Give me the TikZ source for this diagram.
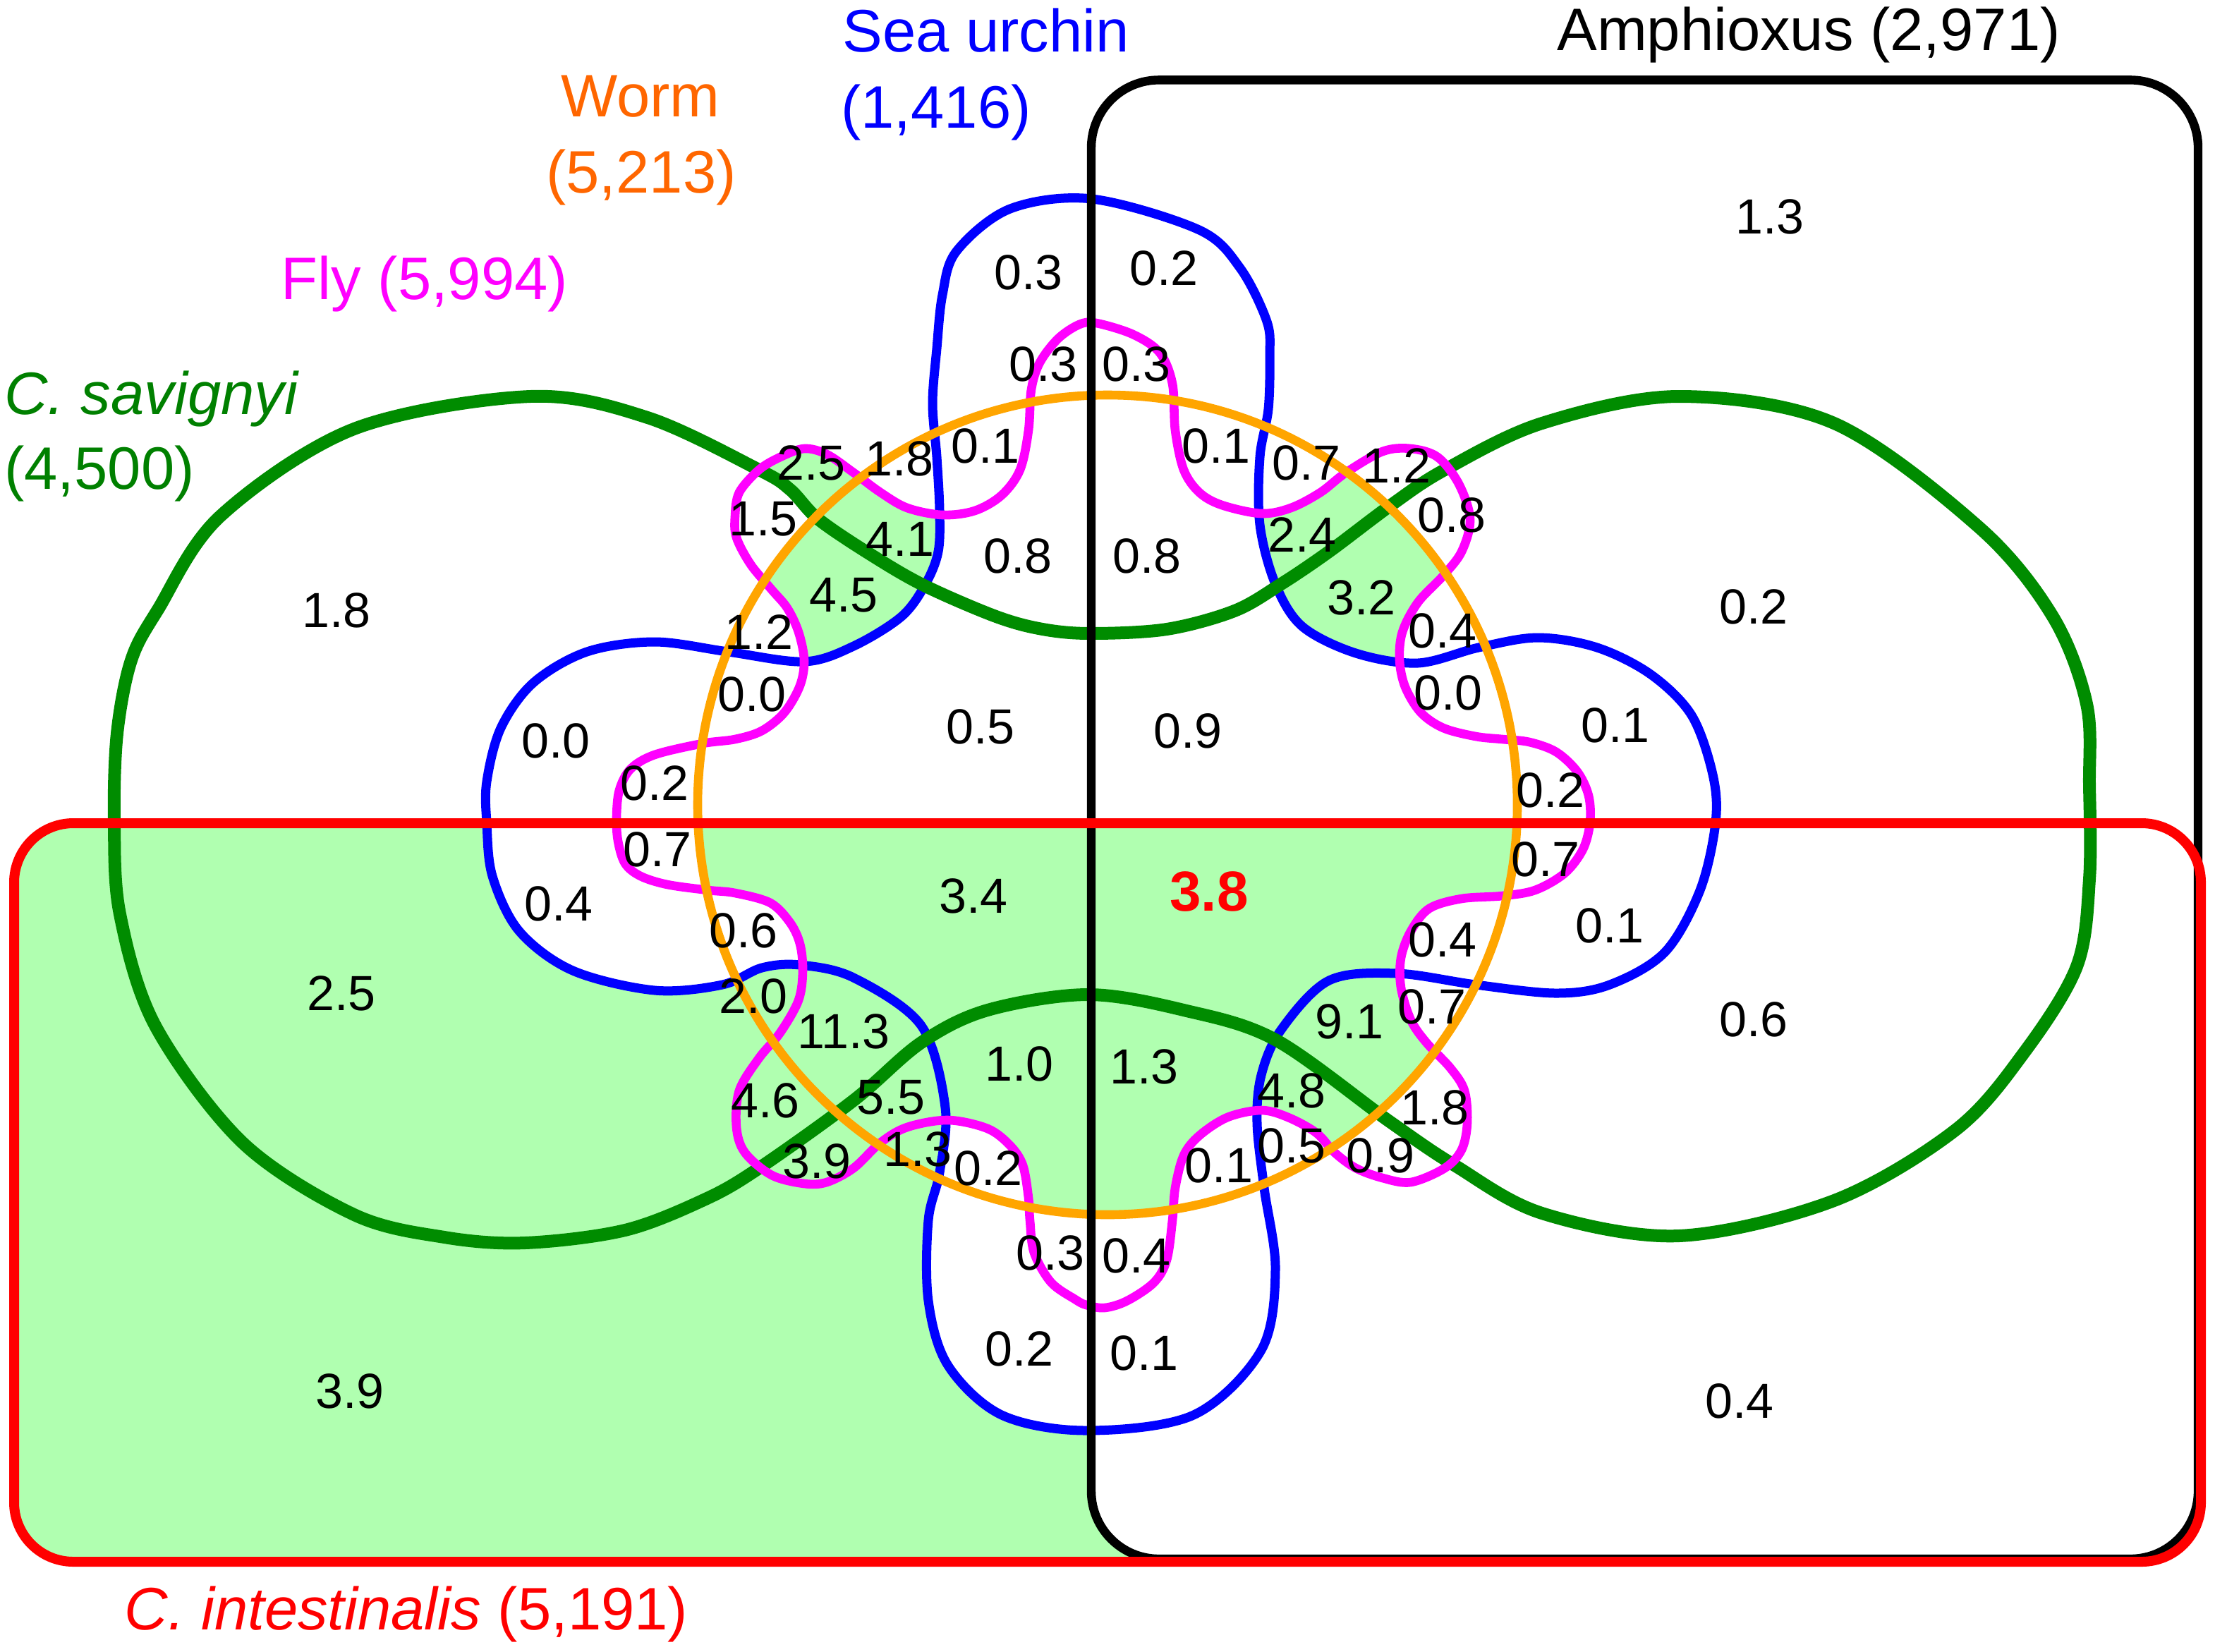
\documentclass[tikz,border=0pt]{standalone}
\usepackage{fontspec}
\setmainfont{Liberation Sans}
\definecolor{gline}{RGB}{0,140,0}
\definecolor{gfill}{RGB}{176,255,176}
\definecolor{oline}{RGB}{255,165,0}
\definecolor{flyc}{RGB}{255,0,255}
\definecolor{urchin}{RGB}{0,0,255}
\definecolor{wormlab}{RGB}{255,102,0}
\definecolor{savlab}{RGB}{0,128,0}
\begin{document}
\begin{tikzpicture}[x=1pt,y=-1pt,
  num/.style={font=\fontsize{35}{40}\selectfont, inner sep=0pt, anchor=center},
  lab/.style={font=\fontsize{42.5}{48}\selectfont, inner sep=0pt, anchor=base},
  setline/.style={line join=round, line cap=round}]
\useasboundingbox (0,0) rectangle (1570,1170.5);
% ---------- set boundaries ----------
\def\pG{plot[smooth cycle, tension=0.55] coordinates {(560,347) (580,368) (617,393) (655,415) (706,437) (739,446) (773,449) (827,446) (875,433) (908,414) (942,391) (986,358) (1024,333) (1093,300) (1190,281) (1300,300) (1403,374) (1455,437) (1479,499) (1481,557) (1481,623) (1472,685) (1434,747) (1386,801) (1300,851) (1190,876) (1093,860) (1031,826) (985,795) (904,737) (839,716) (771,705) (700,716) (653,739) (605,780) (538,828) (500,850) (443,872) (372,881) (315,877) (251,861) (172,810) (110,727) (85,648) (81,582) (83,520) (93,468) (112,432) (156,366) (251,304) (376,281) (459,296) (538,333)}}
\def\pB{plot[smooth cycle, tension=0.55] coordinates {(774,141) (850,163) (879,190) (898,228) (900,253) (899,290) (893,324) (893,372) (904,414) (923,444) (961,463) (1005,470) (1048,459) (1090,452) (1132,459) (1170,478) (1199,507) (1214,549) (1216,583) (1205,631) (1180,675) (1141,698) (1103,704) (1046,698) (990,690) (942,695) (908,730) (894,762) (891,796) (896,842) (904,900) (894,957) (846,1003) (770,1014) (710,1003) (672,968) (658,922) (658,865) (666,831) (670,785) (653,727) (605,693) (567,684) (540,686) (512,698) (464,702) (406,688) (368,660) (349,621) (345,583) (345,554) (355,516) (378,484) (416,462) (464,455) (516,462) (570,469) (605,458) (639,437) (656,414) (665,391) (666,362) (664,324) (661,286) (664,247) (668,209) (678,178) (716,148)}}
\def\pF{plot[smooth cycle, tension=0.55] coordinates {(777,229) (803,237) (822,250) (831,272) (833,305) (839,333) (850,349) (866,358) (894,364) (915,360) (936,349) (954,335) (980,320) (1000,318) (1019,324) (1034,343) (1042,368) (1036,391) (1023,408) (1005,427) (994,448) (992,468) (996,487) (1007,505) (1023,516) (1046,522) (1065,524) (1084,526) (1103,533) (1118,547) (1126,564) (1127,583) (1122,602) (1109,619) (1088,631) (1065,635) (1036,637) (1013,644) (1000,660) (993,679) (993,700) (1000,723) (1011,739) (1028,757) (1038,773) (1040,796) (1036,815) (1024,828) (1000,838) (980,835) (961,828) (946,817) (933,803) (913,792) (894,787) (870,792) (850,805) (839,819) (833,842) (831,865) (827,893) (818,909) (799,922) (783,927) (770,925) (762,921) (745,909) (733,888) (730,865) (729,849) (725,826) (716,812) (700,800) (672,794) (643,799) (624,810) (605,828) (586,838) (570,839) (547,833) (528,817) (522,799) (524,773) (538,750) (553,732) (566,709) (569,688) (567,669) (560,654) (546,640) (521,633) (502,631) (473,627) (454,621) (443,612) (438,596) (437,579) (439,560) (447,545) (464,535) (498,527) (521,524) (540,518) (556,505) (567,486) (570,468) (566,448) (558,431) (547,418) (532,400) (522,381) (521,366) (524,349) (538,333) (553,324) (570,318) (586,322) (605,335) (624,349) (643,360) (668,365) (691,362) (710,351) (723,333) (729,305) (731,276) (737,257) (750,240) (765,230)}}
\def\pW{(785,570.5) circle[radius=290.5pt]}
\def\pR{[rounded corners=42pt] (10,583.5) rectangle (1560,1107)}
\def\pA{[rounded corners=48pt] (773.5,56.7) rectangle (1558,1105)}
\def\pUL{(0,0) rectangle (773.5,583.5)}
% ---------- shaded regions ----------
\fill[gfill] \pR;
\begin{scope}\clip \pR; \fill[white] \pA;\end{scope}
\begin{scope}\clip \pR; \fill[white] \pB;\end{scope}
\begin{scope}\clip \pA; \clip \pF; \fill[gfill] \pW;\end{scope}
\begin{scope}\clip \pA; \clip \pF; \clip \pW; \fill[white] \pB;\end{scope}
\begin{scope}\clip \pUL; \fill[gfill] \pF;\end{scope}
\begin{scope}\clip \pUL; \clip \pF; \fill[white] \pG;\end{scope}
\begin{scope}\clip \pUL; \clip \pF; \clip \pG; \fill[gfill] \pW;\end{scope}
\begin{scope}\clip \pUL; \clip \pF; \fill[white] \pB;\end{scope}
\begin{scope}\clip \pR; \clip \pB; \clip \pW; \fill[gfill] \pF;\end{scope}
% ---------- outlines ----------
\draw[setline, urchin, line width=6.5pt] \pB;
\draw[setline, gline, line width=9pt] \pG;
\draw[setline, flyc, line width=6.3pt] \pF;
\draw[setline, oline, line width=6.3pt] \pW;
\draw[black, line width=6.2pt] \pA;
\draw[red, line width=7pt] \pR;
% ---------- set labels ----------
\node[lab, anchor=base west, urchin] (lsea) at (597,36.7) {Sea urchin};
\node[lab, anchor=base west, urchin] (lsean) at (596,90.7) {(1,416)};
\node[lab, wormlab] (lworm) at (454,82.5) {Worm};
\node[lab, wormlab] (lwormn) at (454.5,136.6) {(5,213)};
\node[lab, flyc] (lfly) at (301,212.3) {Fly (5,994)};
\node[lab, anchor=base west, savlab] (lsav) at (3,293.5) {\itshape C. savignyi};
\node[lab, anchor=base west, savlab] (lsavn) at (3,346.6) {(4,500)};
\node[lab, black] (lamph) at (1282,35.8) {Amphioxus (2,971)};
\node[lab, red] (lint) at (288,1155) {\itshape C. intestinalis\upshape\ (5,191)};
% ---------- numbers ----------
\node[num] (n1) at (729,193) {0.3};
\node[num] (n2) at (825,190) {0.2};
\node[num] (n3) at (739.5,258) {0.3};
\node[num] (n4) at (805.5,258) {0.3};
\node[num] (n5) at (698.5,316) {0.1};
\node[num] (n6) at (862,316) {0.1};
\node[num] (n7) at (575,328) {2.5};
\node[num] (n8) at (637.5,325) {1.8};
\node[num] (n9) at (926,328) {0.7};
\node[num] (n10) at (990,330) {1.2};
\node[num] (n11) at (541,368) {1.5};
\node[num] (n12) at (1029,365) {0.8};
\node[num] (n13) at (638,382) {4.1};
\node[num] (n14) at (923,379) {2.4};
\node[num] (n15) at (721.5,394) {0.8};
\node[num] (n16) at (813,394) {0.8};
\node[num] (n17) at (598,422) {4.5};
\node[num] (n18) at (965,423.5) {3.2};
\node[num] (n19) at (538,448) {1.2};
\node[num] (n20) at (1022.5,447) {0.4};
\node[num] (n21) at (533,492) {0.0};
\node[num] (n22) at (1026.5,491) {0.0};
\node[num] (n23) at (695,515) {0.5};
\node[num] (n24) at (842,518) {0.9};
\node[num] (n25) at (394,525) {0.0};
\node[num] (n26) at (1145,514) {0.1};
\node[num] (n27) at (464,555) {0.2};
\node[num] (n28) at (1099,560) {0.2};
\node[num] (n29) at (466,602) {0.7};
\node[num] (n30) at (1095.5,609) {0.7};
\node[num] (n31) at (396,640.5) {0.4};
\node[num] (n32) at (690,635) {3.4};
\node[num, red, font=\fontsize{40}{46}\selectfont\bfseries] (n33) at (857,632) {3.8};
\node[num] (n34) at (527,659.5) {0.6};
\node[num] (n35) at (1022.5,666) {0.4};
\node[num] (n36) at (1141,656) {0.1};
\node[num] (n37) at (534,706) {2.0};
\node[num] (n38) at (1015,713.5) {0.7};
\node[num] (n39) at (598,731) {11.3};
\node[num] (n40) at (956.5,724) {9.1};
\node[num] (n41) at (722.5,754) {1.0};
\node[num] (n42) at (811,756) {1.3};
\node[num] (n43) at (631.5,778) {5.5};
\node[num] (n44) at (542.5,780) {4.6};
\node[num] (n45) at (915.5,773) {4.8};
\node[num] (n46) at (1017,785) {1.8};
\node[num] (n47) at (579,823) {3.9};
\node[num] (n48) at (650.5,814.5) {1.3};
\node[num] (n49) at (700.5,828) {0.2};
\node[num] (n50) at (864,826) {0.1};
\node[num] (n51) at (915.5,812) {0.5};
\node[num] (n52) at (978.5,819) {0.9};
\node[num] (n53) at (744.5,888) {0.3};
\node[num] (n54) at (805.5,890) {0.4};
\node[num] (n55) at (722.5,956) {0.2};
\node[num] (n56) at (811,959) {0.1};
\node[num] (n57) at (238.5,432.5) {1.8};
\node[num] (n58) at (242,704) {2.5};
\node[num] (n59) at (248,986) {3.9};
\node[num] (n60) at (1254.5,153.5) {1.3};
\node[num] (n61) at (1243,430) {0.2};
\node[num] (n62) at (1243,722.5) {0.6};
\node[num] (n63) at (1233,993) {0.4};
\end{tikzpicture}
\end{document}
